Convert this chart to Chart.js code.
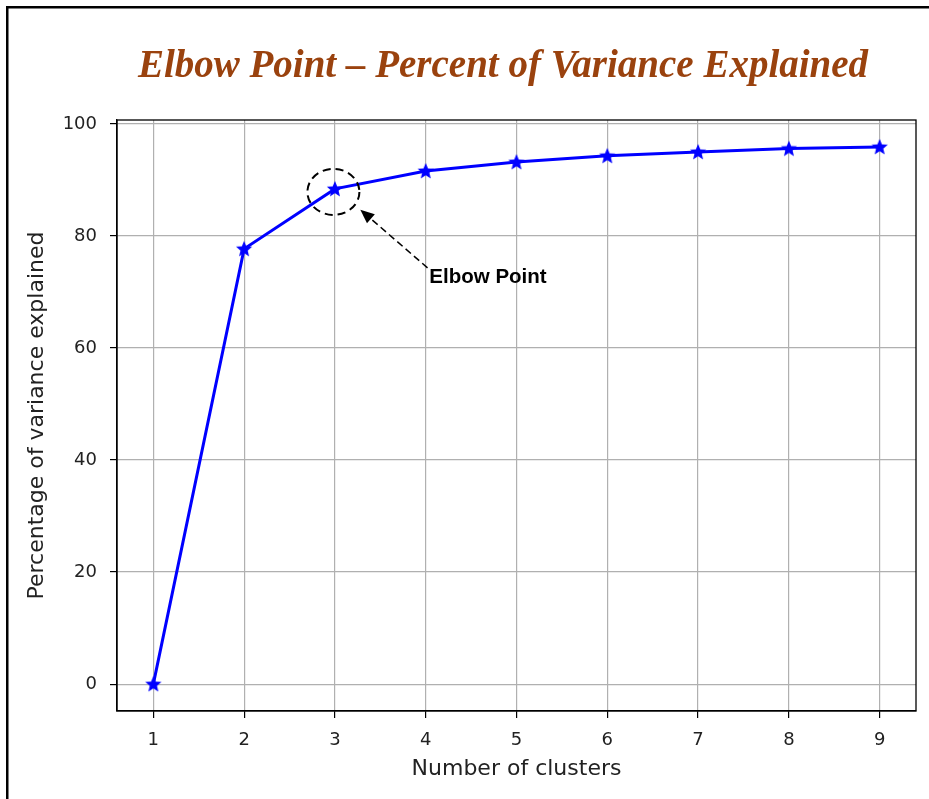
<!DOCTYPE html>
<html>
<head>
<meta charset="utf-8">
<script src="https://cdn.jsdelivr.net/npm/chart.js@4.4.1/dist/chart.umd.min.js"></script>
<style>
  html, body { margin: 0; padding: 0; background: #fff; }
  #wrap { width: 929px; height: 799px; position: relative; }
</style>
</head>
<body>
<div id="wrap"><canvas id="elbowChart" width="929" height="799"></canvas></div>
<script>
// data
const clusters = [1, 2, 3, 4, 5, 6, 7, 8, 9];
const varianceExplained = [0, 77.7, 88.4, 91.6, 93.2, 94.3, 95.0, 95.6, 95.9];
const xTicks = [1, 2, 3, 4, 5, 6, 7, 8, 9];
const yTicks = [0, 20, 40, 60, 80, 100];

const chartTitle = 'Elbow Point – Percent of Variance Explained';

// annotation (data coords)
const elbowIndex = 2;
const elbowLabel = 'Elbow Point';
const labelPos = { x: 4.04, y: 72.6 };
const arrowTail = { x: 4.02, y: 74.3 };
const arrowTip = { x: 3.28, y: 84.7 };

// filled 5-point star like matplotlib '*'
function makeStar(size, color) {
  const c = document.createElement('canvas');
  c.width = size; c.height = size;
  const g = c.getContext('2d');
  const cx = size / 2, cy = size / 2 + 0.5, R = size / 2 - 0.5, r = R * 0.45;
  g.beginPath();
  for (let i = 0; i < 10; i++) {
    const rad = i % 2 === 0 ? R : r;
    const a = -Math.PI / 2 + i * Math.PI / 5;
    g.lineTo(cx + rad * Math.cos(a), cy + rad * Math.sin(a));
  }
  g.closePath();
  g.fillStyle = color;
  g.fill();
  return c;
}
const star = makeStar(18, '#0000ff');

// frame, title, plot box and the dashed elbow annotation
const extras = {
  id: 'extras',
  beforeDraw(chart) {
    const ctx = chart.ctx;
    ctx.save();
    ctx.fillStyle = '#000';
    ctx.fillRect(6, 6, 923, 2.5);
    ctx.fillRect(6, 6, 2.5, 793);
    ctx.font = 'italic bold 39px "Liberation Serif", "Times New Roman", serif';
    ctx.fillStyle = '#9a420e';
    ctx.textAlign = 'center';
    ctx.textBaseline = 'alphabetic';
    ctx.fillText(chartTitle, 503, 77);
    ctx.restore();
  },
  afterDatasetsDraw(chart) {
    const ctx = chart.ctx;
    const xs = chart.scales.x, ys = chart.scales.y;
    const a = chart.chartArea;
    ctx.save();
    ctx.strokeStyle = '#000';
    ctx.lineWidth = 1.3;
    ctx.strokeRect(a.left, a.top, a.right - a.left, a.bottom - a.top);

    // dashed circle round the elbow
    const px = xs.getPixelForValue(clusters[elbowIndex]);
    const py = ys.getPixelForValue(varianceExplained[elbowIndex]);
    ctx.setLineDash([8, 5]);
    ctx.lineWidth = 2;
    ctx.beginPath();
    ctx.ellipse(px - 1.5, py + 3, 26, 23, 0, 0, Math.PI * 2);
    ctx.stroke();

    // dashed arrow
    const x0 = xs.getPixelForValue(arrowTail.x), y0 = ys.getPixelForValue(arrowTail.y);
    const x1 = xs.getPixelForValue(arrowTip.x), y1 = ys.getPixelForValue(arrowTip.y);
    const ang = Math.atan2(y1 - y0, x1 - x0);
    const hl = 14, hw = 6;
    const bx = x1 - hl * Math.cos(ang), by = y1 - hl * Math.sin(ang);
    ctx.setLineDash([7, 4]);
    ctx.lineWidth = 1.5;
    ctx.beginPath();
    ctx.moveTo(x0, y0);
    ctx.lineTo(bx, by);
    ctx.stroke();
    ctx.setLineDash([]);
    ctx.fillStyle = '#000';
    ctx.beginPath();
    ctx.moveTo(x1, y1);
    ctx.lineTo(bx + hw * Math.sin(ang), by - hw * Math.cos(ang));
    ctx.lineTo(bx - hw * Math.sin(ang), by + hw * Math.cos(ang));
    ctx.closePath();
    ctx.fill();

    // label
    ctx.font = 'bold 20.5px "Liberation Sans", Arial, sans-serif';
    ctx.textAlign = 'left';
    ctx.textBaseline = 'middle';
    ctx.fillStyle = '#000';
    ctx.fillText(elbowLabel, xs.getPixelForValue(labelPos.x), ys.getPixelForValue(labelPos.y));
    ctx.restore();
  }
};

const tickFont = { family: '"DejaVu Sans", sans-serif', size: 18, lineHeight: 1.2 };
const titleFont = { family: '"DejaVu Sans", sans-serif', size: 22, lineHeight: 1.2 };

new Chart(document.getElementById('elbowChart').getContext('2d'), {
  type: 'line',
  data: {
    datasets: [{
      data: clusters.map((c, i) => ({ x: c, y: varianceExplained[i] })),
      borderColor: '#0000ff',
      borderWidth: 3,
      pointStyle: star,
      pointBackgroundColor: '#0000ff',
      tension: 0
    }]
  },
  options: {
    responsive: false,
    animation: false,
    layout: { padding: { top: 120, left: 10, right: 13, bottom: 0 } },
    plugins: {
      legend: { display: false },
      tooltip: { enabled: false },
      title: { display: false }
    },
    scales: {
      x: {
        type: 'linear',
        min: 0.6,
        max: 9.4,
        afterBuildTicks: s => { s.ticks = xTicks.map(v => ({ value: v })); },
        afterFit: s => { s.height = 88; },
        ticks: { color: '#222', font: tickFont, padding: 12, maxRotation: 0, autoSkip: false },
        grid: { color: '#b0b0b0', lineWidth: 1.2, tickColor: '#000', tickLength: 7 },
        border: { display: true, color: '#000', width: 1.3 },
        title: { display: true, text: 'Number of clusters', color: '#222', font: titleFont, padding: { top: 0, bottom: 17 } }
      },
      y: {
        type: 'linear',
        min: -4.8,
        max: 100.7,
        afterBuildTicks: s => { s.ticks = yTicks.map(v => ({ value: v })); },
        afterFit: s => { s.width = 107; },
        ticks: { color: '#222', font: tickFont, padding: 13, autoSkip: false },
        grid: { color: '#b0b0b0', lineWidth: 1.2, tickColor: '#000', tickLength: 7 },
        border: { display: true, color: '#000', width: 1.3 },
        title: { display: true, text: 'Percentage of variance explained', color: '#222', font: titleFont, padding: { top: 14, bottom: 0 } }
      }
    }
  },
  plugins: [extras]
});
</script>
</body>
</html>
